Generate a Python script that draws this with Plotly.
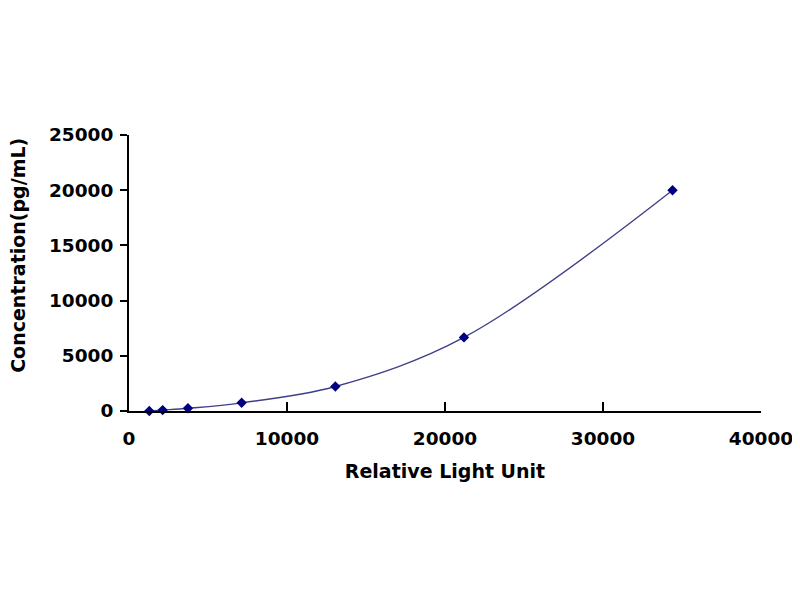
import plotly.graph_objects as go

rlu = [1285, 2130, 3730, 7130, 13060, 21200, 34400]
conc = [0, 82, 247, 741, 2222, 6667, 20000]

x_ticks = [0, 10000, 20000, 30000, 40000]
y_ticks = [0, 5000, 10000, 15000, 20000, 25000]

tick_font = dict(family="DejaVu Sans", size=18.5, color="black", weight="bold")

fig = go.Figure()
fig.add_trace(go.Scatter(
    x=rlu, y=conc, mode="lines",
    line=dict(color="#404088", width=1.4, shape="spline", smoothing=1.0),
    hoverinfo="skip", showlegend=False,
))
fig.add_trace(go.Scatter(
    x=rlu, y=conc, mode="markers",
    marker=dict(symbol="diamond", size=8, color="#000080"),
    showlegend=False, cliponaxis=False,
))

fig.update_layout(
    width=792, height=592, autosize=False,
    margin=dict(l=121, r=39, t=127, b=189),
    paper_bgcolor="white", plot_bgcolor="white",
    xaxis=dict(
        range=[0, 40000], tickvals=x_ticks, ticktext=[str(v) for v in x_ticks],
        automargin=False,
        showgrid=False, zeroline=False, showline=True, linecolor="black", linewidth=2,
        ticks="inside", ticklen=9, tickwidth=1.5, tickcolor="black",
        tickfont=tick_font,
        ticklabelstandoff=10,
        title=dict(text="<b>Relative Light Unit</b>", standoff=16,
                   font=dict(family="DejaVu Sans", size=19, color="black")),
    ),
    yaxis=dict(
        range=[0, 25000], tickvals=y_ticks, ticktext=[str(v) for v in y_ticks],
        automargin=False,
        showgrid=False, zeroline=False, showline=True, linecolor="black", linewidth=2,
        ticks="outside", ticklen=7, tickwidth=1.5, tickcolor="black",
        tickfont=tick_font,
        ticklabelstandoff=3,
    ),
    annotations=[dict(
        text="<b>Concentration(pg/mL)</b>", textangle=-90,
        xref="paper", yref="paper", x=-0.176, y=0.565,
        xanchor="center", yanchor="middle", showarrow=False,
        font=dict(family="DejaVu Sans", size=19, color="black"),
    )],
)

fig.write_html("out.html")
